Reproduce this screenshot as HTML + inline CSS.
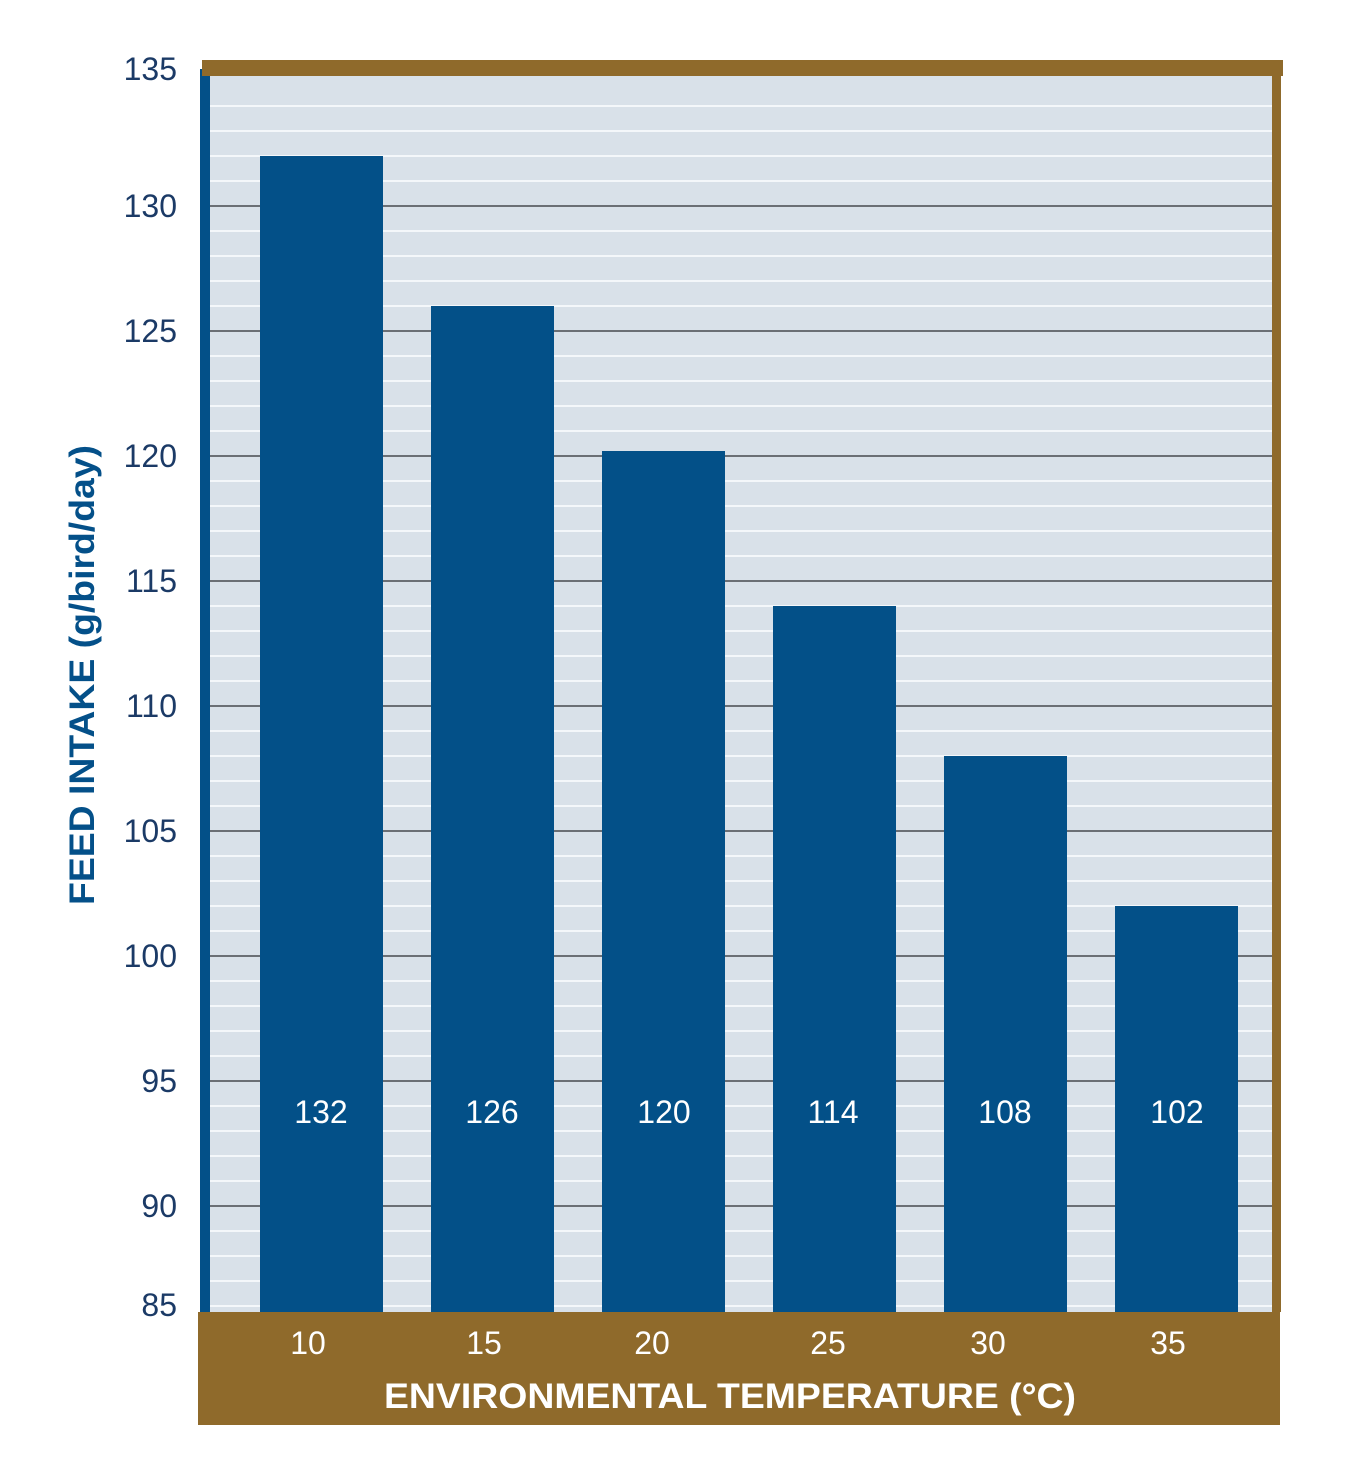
<!DOCTYPE html>
<html><head><meta charset="utf-8"><style>html,body{margin:0;padding:0;background:#fff}svg{display:block}</style></head><body>
<svg width="1361" height="1457" xmlns="http://www.w3.org/2000/svg" font-family="Liberation Sans, Arial, sans-serif">
<rect x="210" y="76" width="1062" height="1236" fill="#d9e1e9"/>
<g stroke="#f4f7fa" stroke-width="2">
<line x1="210" y1="106" x2="1272" y2="106"/><line x1="210" y1="131" x2="1272" y2="131"/><line x1="210" y1="156" x2="1272" y2="156"/><line x1="210" y1="181" x2="1272" y2="181"/>
<line x1="210" y1="231" x2="1272" y2="231"/><line x1="210" y1="256" x2="1272" y2="256"/><line x1="210" y1="281" x2="1272" y2="281"/><line x1="210" y1="306" x2="1272" y2="306"/>
<line x1="210" y1="356" x2="1272" y2="356"/><line x1="210" y1="381" x2="1272" y2="381"/><line x1="210" y1="406" x2="1272" y2="406"/><line x1="210" y1="431" x2="1272" y2="431"/>
<line x1="210" y1="481" x2="1272" y2="481"/><line x1="210" y1="506" x2="1272" y2="506"/><line x1="210" y1="531" x2="1272" y2="531"/><line x1="210" y1="556" x2="1272" y2="556"/>
<line x1="210" y1="606" x2="1272" y2="606"/><line x1="210" y1="631" x2="1272" y2="631"/><line x1="210" y1="656" x2="1272" y2="656"/><line x1="210" y1="681" x2="1272" y2="681"/>
<line x1="210" y1="731" x2="1272" y2="731"/><line x1="210" y1="756" x2="1272" y2="756"/><line x1="210" y1="781" x2="1272" y2="781"/><line x1="210" y1="806" x2="1272" y2="806"/>
<line x1="210" y1="856" x2="1272" y2="856"/><line x1="210" y1="881" x2="1272" y2="881"/><line x1="210" y1="906" x2="1272" y2="906"/><line x1="210" y1="931" x2="1272" y2="931"/>
<line x1="210" y1="981" x2="1272" y2="981"/><line x1="210" y1="1006" x2="1272" y2="1006"/><line x1="210" y1="1031" x2="1272" y2="1031"/><line x1="210" y1="1056" x2="1272" y2="1056"/>
<line x1="210" y1="1106" x2="1272" y2="1106"/><line x1="210" y1="1131" x2="1272" y2="1131"/><line x1="210" y1="1156" x2="1272" y2="1156"/><line x1="210" y1="1181" x2="1272" y2="1181"/>
<line x1="210" y1="1231" x2="1272" y2="1231"/><line x1="210" y1="1256" x2="1272" y2="1256"/><line x1="210" y1="1281" x2="1272" y2="1281"/><line x1="210" y1="1306" x2="1272" y2="1306"/>
</g>
<g stroke="#6b6f75" stroke-width="2">
<line x1="210" y1="206" x2="1272" y2="206"/><line x1="210" y1="331" x2="1272" y2="331"/><line x1="210" y1="456" x2="1272" y2="456"/><line x1="210" y1="581" x2="1272" y2="581"/><line x1="210" y1="706" x2="1272" y2="706"/><line x1="210" y1="831" x2="1272" y2="831"/><line x1="210" y1="956" x2="1272" y2="956"/><line x1="210" y1="1081" x2="1272" y2="1081"/><line x1="210" y1="1206" x2="1272" y2="1206"/>
</g>
<g fill="#035088">
<rect x="260" y="156" width="123" height="1156"/>
<rect x="431" y="306" width="123" height="1006"/>
<rect x="602" y="451" width="123" height="861"/>
<rect x="773" y="606" width="123" height="706"/>
<rect x="944" y="756" width="123" height="556"/>
<rect x="1115" y="906" width="123" height="406"/>
<rect x="200" y="69" width="10" height="1243"/>
</g>
<rect x="202" y="60" width="1081" height="16" fill="#8f6a2b"/>
<rect x="1272" y="60" width="9" height="1252" fill="#8f6a2b"/>
<rect x="198" y="1312" width="1082" height="113" fill="#8f6a2b"/>
<g fill="#fff" font-size="32" text-anchor="middle">
<text x="321" y="1123">132</text><text x="492" y="1123">126</text><text x="664" y="1123">120</text><text x="833" y="1123">114</text><text x="1005" y="1123">108</text><text x="1177" y="1123">102</text>
<text x="308" y="1354">10</text><text x="484" y="1354">15</text><text x="652" y="1354">20</text><text x="828" y="1354">25</text><text x="988" y="1354">30</text><text x="1168" y="1354">35</text>
<text x="730" y="1408" font-weight="bold" font-size="35" textLength="692" lengthAdjust="spacingAndGlyphs">ENVIRONMENTAL TEMPERATURE (°C)</text>
</g>
<g fill="#1b3a66" font-size="32" text-anchor="end">
<text x="177" y="80">135</text><text x="177" y="217">130</text><text x="177" y="342">125</text><text x="177" y="467">120</text><text x="177" y="592">115</text><text x="177" y="717">110</text><text x="177" y="842">105</text><text x="177" y="967">100</text><text x="177" y="1092">95</text><text x="177" y="1217">90</text><text x="177" y="1316">85</text>
</g>
<text transform="translate(94,675) rotate(-90)" fill="#045089" font-size="35" font-weight="bold" text-anchor="middle" textLength="460" lengthAdjust="spacingAndGlyphs">FEED INTAKE (g/bird/day)</text>
</svg>
</body></html>
